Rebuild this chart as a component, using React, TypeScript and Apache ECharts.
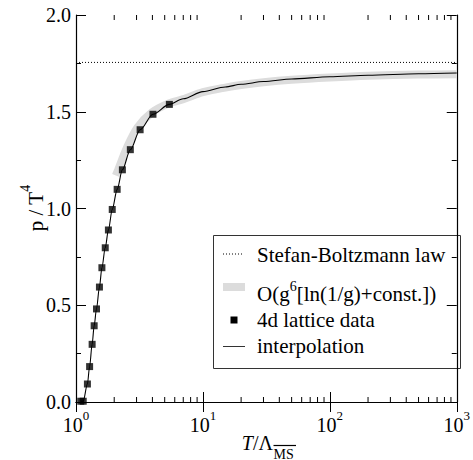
import React, { useEffect, useRef } from 'react';
import * as echarts from 'echarts';

const FONT = 'Liberation Serif';

// Stefan-Boltzmann limit
const sbT = [1, 1000];
const sbP = [1.755, 1.755];

// 4d lattice data
const latticeT = [1.09, 1.14, 1.23, 1.28, 1.34, 1.39, 1.45, 1.53, 1.6, 1.7, 1.8, 1.93, 2.11, 2.32, 2.68, 3.2, 4.04, 5.44];
const latticeP = [0.004, 0.004, 0.093, 0.183, 0.298, 0.394, 0.481, 0.594, 0.694, 0.797, 0.889, 0.995, 1.099, 1.2, 1.304, 1.407, 1.487, 1.538];

// interpolation curve
const interpT = [1.09, 1.14, 1.23, 1.28, 1.34, 1.39, 1.45, 1.53, 1.6, 1.7, 1.8, 1.93, 2.11, 2.32, 2.68, 3.2, 4.04, 5.44, 7, 10, 15, 20, 30, 50, 100, 200, 500, 1000];
const interpP = [0.004, 0.004, 0.093, 0.183, 0.298, 0.394, 0.481, 0.594, 0.694, 0.797, 0.889, 0.995, 1.099, 1.2, 1.304, 1.407, 1.487, 1.538, 1.567, 1.604, 1.628, 1.642, 1.656, 1.669, 1.681, 1.689, 1.696, 1.7];

// O(g^6[ln(1/g)+const.]) band
const bandT = [2.06, 2.15, 2.51, 3.04, 3.94, 5.38, 7, 10, 15, 20, 30, 50, 100, 200, 500, 1000];
const bandP = [1.17, 1.2, 1.312, 1.417, 1.495, 1.543, 1.565, 1.601, 1.625, 1.638, 1.652, 1.665, 1.677, 1.686, 1.692, 1.694];

// minor tick positions on the log axis
const xMinorTicks = [2, 3, 4, 5, 6, 7, 8, 9, 20, 30, 40, 50, 60, 70, 80, 90, 200, 300, 400, 500, 600, 700, 800, 900];

// legend labels
const legendLabels = ['Stefan-Boltzmann law', 'O(g', '4d lattice data', 'interpolation'];

const zip = (a: number[], b: number[]) => a.map((v, i) => [v, b[i]]);

export default function App() {
  const ref = useRef<HTMLDivElement>(null);

  useEffect(() => {
    document.body.style.margin = '0';
    if (!ref.current) return;
    const chart = echarts.init(ref.current, undefined, { renderer: 'svg' });

    const tickLine = { lineStyle: { color: '#000', width: 1 } };
    const richSup = {
      b: { fontSize: 20, fontFamily: FONT, color: '#000', lineHeight: 26, verticalAlign: 'bottom' },
      s: { fontSize: 13, fontFamily: FONT, color: '#000', lineHeight: 13, verticalAlign: 'top' },
    };

    const option: any = {
      animation: false,
      backgroundColor: '#fff',
      textStyle: { fontFamily: FONT, color: '#000' },
      grid: { left: 76, right: 11, top: 15, bottom: 58, containLabel: false },
      xAxis: [
        {
          type: 'log',
          logBase: 10,
          min: 1,
          max: 1000,
          position: 'bottom',
          axisLine: { show: true, lineStyle: { color: '#000', width: 1.2 } },
          axisTick: { show: true, inside: true, length: 10, ...tickLine },
          minorTick: { show: false },
          splitLine: { show: false },
          axisLabel: {
            show: true,
            margin: 7,
            fontFamily: FONT,
            color: '#000',
            formatter: (v: number) => '{b|10}{s|' + Math.round(Math.log10(v)) + '}',
            rich: richSup,
          },
        },
        {
          type: 'log',
          logBase: 10,
          min: 1,
          max: 1000,
          position: 'top',
          axisLine: { show: true, lineStyle: { color: '#000', width: 1.2 } },
          axisTick: { show: true, inside: true, length: 10, ...tickLine },
          splitLine: { show: false },
          axisLabel: { show: false },
        },
      ],
      yAxis: [
        {
          type: 'value',
          min: 0,
          max: 2,
          interval: 0.5,
          position: 'left',
          axisLine: { show: true, lineStyle: { color: '#000', width: 1.2 } },
          axisTick: { show: true, inside: true, length: 10, ...tickLine },
          minorTick: { show: true, splitNumber: 2, length: 5, ...tickLine },
          splitLine: { show: false },
          axisLabel: {
            show: true,
            margin: 5,
            color: '#000',
            fontSize: 20,
            fontFamily: FONT,
            formatter: (v: number) => v.toFixed(1),
          },
        },
        {
          type: 'value',
          min: 0,
          max: 2,
          interval: 0.5,
          position: 'right',
          axisLine: { show: true, lineStyle: { color: '#000', width: 1.2 } },
          axisTick: { show: true, inside: true, length: 10, ...tickLine },
          minorTick: { show: true, splitNumber: 2, length: 5, ...tickLine },
          splitLine: { show: false },
          axisLabel: { show: false },
        },
      ],
      series: [
        {
          name: 'Stefan-Boltzmann law',
          type: 'line',
          data: zip(sbT, sbP),
          showSymbol: false,
          symbol: 'none',
          lineStyle: { color: '#000', width: 1, type: [1, 2] },
          z: 2,
        },
        {
          name: 'O(g6[ln(1/g)+const.])',
          type: 'line',
          data: zip(bandT, bandP),
          symbol: 'none',
          smooth: 0.3,
          lineStyle: { color: '#dcdcdc', width: 8, cap: 'butt' },
          z: 1,
        },
        {
          name: 'interpolation',
          type: 'line',
          data: zip(interpT, interpP),
          symbol: 'none',
          smooth: 0.3,
          smoothMonotone: 'x',
          lineStyle: { color: '#000', width: 1.1 },
          z: 3,
        },
        {
          name: '4d lattice data',
          type: 'scatter',
          data: zip(latticeT, latticeP),
          symbol: 'rect',
          symbolSize: 7,
          itemStyle: { color: '#000' },
          z: 4,
        },
        {
          name: 'minor ticks',
          type: 'custom',
          silent: true,
          data: xMinorTicks.map((v) => [v, 1]),
          encode: { x: 0, y: 1 },
          z: 5,
          clip: false,
          renderItem: (params: any, api: any) => {
            const pt = api.coord([api.value(0), 1]);
            const cs = params.coordSys;
            const x = pt[0];
            const yb = cs.y + cs.height;
            const yt = cs.y;
            return {
              type: 'group',
              children: [
                { type: 'line', shape: { x1: x, y1: yb, x2: x, y2: yb - 5 }, style: { stroke: '#000', lineWidth: 1 } },
                { type: 'line', shape: { x1: x, y1: yt, x2: x, y2: yt + 5 }, style: { stroke: '#000', lineWidth: 1 } },
              ],
            };
          },
        },
      ],
      graphic: [
        {
          type: 'text',
          x: 32,
          y: 208,
          rotation: Math.PI / 2,
          style: {
            text: '{b|p / T}{s|4}',
            align: 'center',
            verticalAlign: 'middle',
            rich: {
              b: { fontSize: 21, fontFamily: FONT, fill: '#000', lineHeight: 28, verticalAlign: 'bottom' },
              s: { fontSize: 14, fontFamily: FONT, fill: '#000', lineHeight: 14, verticalAlign: 'top' },
            },
          },
        },
        {
          type: 'text',
          x: 273,
          y: 443.3,
          style: {
            text: '{i|T}{n|/Λ}',
            align: 'right',
            verticalAlign: 'middle',
            rich: {
              i: { fontSize: 20, fontFamily: FONT, fontStyle: 'italic', fill: '#000' },
              n: { fontSize: 20, fontFamily: FONT, fill: '#000' },
            },
          },
        },
        {
          type: 'text',
          x: 273.5,
          y: 454,
          style: { text: 'MS', fontSize: 14, fontFamily: FONT, fill: '#000', align: 'left', verticalAlign: 'middle' },
        },
        { type: 'line', shape: { x1: 273.5, y1: 445.5, x2: 296, y2: 445.5 }, style: { stroke: '#000', lineWidth: 1.2 } },
        {
          type: 'group',
          children: [
            { type: 'rect', shape: { x: 213.5, y: 235.5, width: 247, height: 133 }, style: { fill: '#fff', stroke: '#333', lineWidth: 1 } },
            { type: 'line', shape: { x1: 223, y1: 254, x2: 244, y2: 254 }, style: { stroke: '#000', lineWidth: 1, lineDash: [1, 2] } },
            { type: 'rect', shape: { x: 223, y: 283, width: 22, height: 8 }, style: { fill: '#dcdcdc' } },
            { type: 'rect', shape: { x: 230.5, y: 316.5, width: 7, height: 7 }, style: { fill: '#000' } },
            { type: 'line', shape: { x1: 223, y1: 346.5, x2: 245, y2: 346.5 }, style: { stroke: '#333', lineWidth: 1 } },
            {
              type: 'text', x: 257, y: 255,
              style: { text: legendLabels[0], fontSize: 21, fontFamily: FONT, fill: '#000', align: 'left', verticalAlign: 'middle' },
            },
            {
              type: 'text', x: 257, y: 291.5,
              style: {
                text: '{b|' + legendLabels[1] + '}{s|6}{b|[ln(1/g)+const.])}',
                align: 'left',
                verticalAlign: 'middle',
                rich: {
                  b: { fontSize: 21, fontFamily: FONT, fill: '#000', lineHeight: 25, verticalAlign: 'bottom' },
                  s: { fontSize: 14, fontFamily: FONT, fill: '#000', lineHeight: 14, verticalAlign: 'top' },
                },
              },
            },
            {
              type: 'text', x: 257, y: 320,
              style: { text: legendLabels[2], fontSize: 21, fontFamily: FONT, fill: '#000', align: 'left', verticalAlign: 'middle' },
            },
            {
              type: 'text', x: 257, y: 346,
              style: { text: legendLabels[3], fontSize: 21, fontFamily: FONT, fill: '#000', align: 'left', verticalAlign: 'middle' },
            },
          ],
        },
      ],
    };

    chart.setOption(option);
    return () => chart.dispose();
  }, []);

  return <div ref={ref} style={{ width: 473, height: 460 }} />;
}
